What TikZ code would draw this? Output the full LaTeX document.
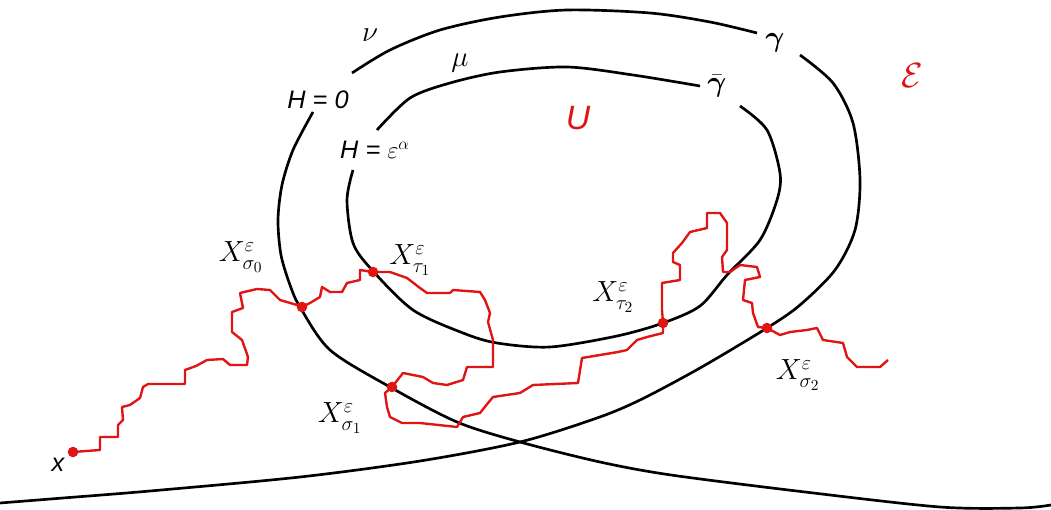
\documentclass[tikz,border=0pt]{standalone}
\usepackage{amsmath}
\usepackage{fontspec}
\setsansfont{Liberation Sans}
\usetikzlibrary{calc}
\definecolor{walkred}{RGB}{225,20,20}

\begin{document}
\begin{tikzpicture}[x=0.025cm,y=-0.025cm,
    level/.style={line width=1.9pt},
    walk/.style={walkred,line width=1.7pt,line join=round},
    hit/.style={circle,fill=walkred,inner sep=0pt,minimum size=7.5pt},
    xlab/.style={font=\fontsize{22}{26}\selectfont},
    hlab/.style={font=\sffamily\itshape\fontsize{18}{22}\selectfont},
    glab/.style={font=\fontsize{22}{26}\selectfont}]
    \useasboundingbox (0,0) rectangle (1051,510);

    % level set H=0 (gamma)
    \draw[level] plot[smooth] coordinates {(352,73) (390,50) (440,30) (500,17) (567,10) (650,13) (710,22) (757,33)};
    \draw[level] plot[smooth] coordinates {(800,55) (833,83) (853,123) (860,180) (855,230) (835,270) (800,305) (767,328) (700,368) (640,400) (597,418) (520,442) (420,461) (300,477) (150,491) (63,498) (0,503)};
    \draw[level] plot[smooth] coordinates {(313,112) (293,150) (282,185) (278,220) (281,255) (290,285) (300,307) (330,350) (390,387) (457,422) (520,442) (600,462) (671,475) (805,492) (940,507) (1020,508) (1051,505)};

    % level set H=eps^alpha (gamma bar)
    \draw[level] plot[smooth] coordinates {(377,130) (410,98) (450,83) (500,72) (567,67) (633,75) (700,86)};
    \draw[level] plot[smooth] coordinates {(740,106) (767,130) (780,173) (777,200) (760,240) (727,275) (700,306) (663,323) (617,336) (550,347) (497,343) (463,333) (413,310) (372,270) (353,243) (347,200) (353,170)};

    % the path
    \node[hit] (x0) at (73,452) {};
    \node[hit] (s0) at (302,307) {};
    \node[hit] (t1) at (373,272) {};
    \node[hit] (s1) at (392,387) {};
    \node[hit] (t2) at (663,323) {};
    \node[hit] (s2) at (767,328) {};
    \draw[walk] (x0.center) -- (100,450) -- (100,437) -- (118,437) -- (118,425) -- (123,420) -- (122,407)
        -- (130,405) -- (140,398) -- (143,387) -- (148,384) -- (185,384) -- (185,370) -- (196,366) -- (207,360)
        -- (223,359) -- (230,365) -- (247,365) -- (248,357) -- (242,340) -- (232,332) -- (232,312) -- (243,308)
        -- (240,293) -- (257,289) -- (270,290) -- (280,300) -- (297,305) -- (s0.center)
        -- (310,303) -- (320,297) -- (322,287) -- (330,292) -- (342,292) -- (347,283) -- (360,280) -- (360,270)
        -- (t1.center) -- (390,272) -- (407,278) -- (420,288) -- (427,293) -- (450,293) -- (453,290) -- (480,292)
        -- (485,300) -- (490,313) -- (488,322) -- (493,340) -- (493,367) -- (467,367) -- (463,380) -- (447,385)
        -- (433,383) -- (423,377) -- (403,373) -- (s1.center)
        -- (385,393) -- (387,407) -- (390,417) -- (402,423) -- (420,423) -- (457,427) -- (463,417) -- (480,413)
        -- (488,403) -- (493,397) -- (520,393) -- (533,385) -- (578,383) -- (582,358) -- (618,352) -- (627,350)
        -- (637,340) -- (647,337) -- (663,333) -- (t2.center)
        -- (662,310) -- (662,283) -- (680,280) -- (680,265) -- (673,262) -- (673,253) -- (682,243) -- (690,232)
        -- (707,228) -- (707,213) -- (720,213) -- (727,223) -- (727,250) -- (722,257) -- (723,272) -- (730,272)
        -- (740,265) -- (757,267) -- (760,277) -- (745,280) -- (743,300) -- (752,303) -- (753,313) -- (758,327)
        -- (s2.center) -- (780,335) -- (790,332) -- (807,330) -- (817,328) -- (823,340) -- (843,343) -- (847,357)
        -- (857,367) -- (880,367) -- (888,360);

    % labels
    \node[glab] (nu) at (370,35) {$\nu$};
    \node[glab] (mu) at (460,63) {$\mu$};
    \node[glab] (ga) at (775,43) {$\boldsymbol{\gamma}$};
    \node[glab] (gb) at (717,86) {$\bar{\boldsymbol{\gamma}}$};
    \node[hlab] (h0) at (318,100) {H = 0};
    \node[hlab] (ha) at (375,150) {H = $\varepsilon^{\alpha}$};
    \node[hlab,walkred,font=\sffamily\itshape\fontsize{24}{28}\selectfont] (U) at (578,118) {U};
    \node[walkred,font=\fontsize{28}{32}\selectfont] (E) at (912,76) {$\mathcal{E}$};
    \node[hlab] (xl) at (58,465) {x};
    \node[xlab] (ls0) at (241,257) {$X^{\varepsilon}_{\sigma_0}$};
    \node[xlab] (lt1) at (410,260) {$X^{\varepsilon}_{\tau_1}$};
    \node[xlab] (ls1) at (340,418) {$X^{\varepsilon}_{\sigma_1}$};
    \node[xlab] (lt2) at (613,297) {$X^{\varepsilon}_{\tau_2}$};
    \node[xlab] (ls2) at (798,375) {$X^{\varepsilon}_{\sigma_2}$};
\end{tikzpicture}
\end{document}
